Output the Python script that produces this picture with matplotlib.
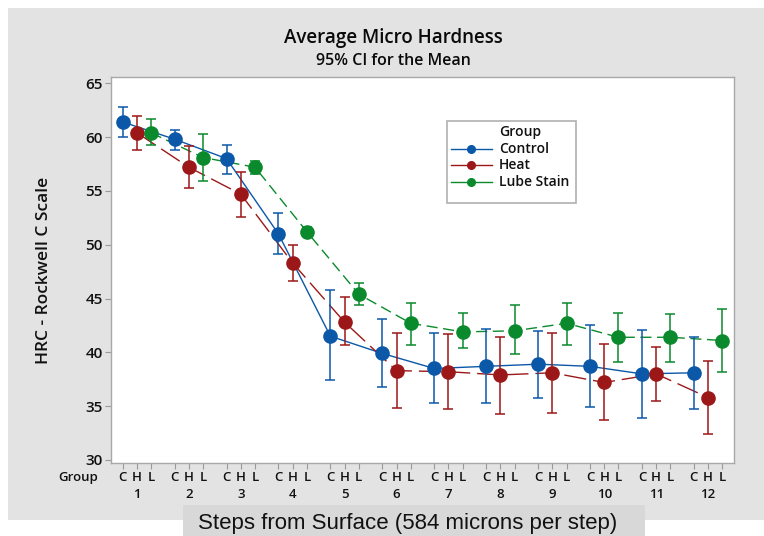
import numpy as np
import matplotlib.pyplot as plt
from matplotlib.patches import Rectangle
from matplotlib.lines import Line2D

plt.rcParams['font.family'] = ['Open Sans', 'DejaVu Sans']

# Mean hardness (HRC) and 95% CI bounds per step for each group
steps = list(range(1, 13))
groups = ['Control', 'Heat', 'Lube Stain']
group_codes = ['C', 'H', 'L']

control_mean = [61.4, 59.8, 58.0, 51.0, 41.5, 39.9, 38.5, 38.7, 38.9, 38.7, 38.0, 38.1]
control_lo = [60.0, 58.8, 56.6, 49.1, 37.4, 36.8, 35.3, 35.3, 35.8, 34.9, 33.9, 34.7]
control_hi = [62.8, 60.7, 59.3, 52.9, 45.8, 43.1, 41.8, 42.2, 42.0, 42.5, 42.1, 41.4]

heat_mean = [60.4, 57.2, 54.7, 48.3, 42.8, 38.3, 38.2, 37.9, 38.1, 37.2, 38.0, 35.8]
heat_lo = [58.8, 55.3, 52.6, 46.6, 40.7, 34.8, 34.7, 34.3, 34.4, 33.7, 35.5, 32.4]
heat_hi = [62.0, 59.2, 56.8, 50.0, 45.1, 41.8, 41.7, 41.4, 41.8, 40.8, 40.5, 39.2]

lube_mean = [60.4, 58.1, 57.2, 51.2, 45.4, 42.7, 41.9, 42.0, 42.7, 41.4, 41.4, 41.1]
lube_lo = [59.3, 55.9, 56.6, 50.8, 44.4, 40.7, 40.4, 39.8, 40.7, 39.1, 39.1, 38.2]
lube_hi = [61.7, 60.3, 57.8, 51.6, 46.4, 44.6, 43.7, 44.4, 44.6, 43.7, 43.6, 44.0]

series = [
    (control_mean, control_lo, control_hi, '#0b57a8', '-'),
    (heat_mean, heat_lo, heat_hi, '#9c1818', (0, (16, 5))),
    (lube_mean, lube_lo, lube_hi, '#0a8a2c', (0, (8, 4))),
]

W, H = 764, 536
fig = plt.figure(figsize=(W / 100, H / 100), dpi=100)
fig.patch.set_facecolor('white')


def fx(px):
    return px / W


def fy(py):
    return 1 - py / H


# gray backdrop panel and the x label box
fig.add_artist(Rectangle((fx(8), fy(520)), fx(764) - fx(8), fy(8) - fy(520),
                         transform=fig.transFigure, facecolor='#e3e3e3', edgecolor='none', zorder=0))
fig.add_artist(Rectangle((fx(183), fy(536)), fx(645) - fx(183), fy(505) - fy(536),
                         transform=fig.transFigure, facecolor='#d8d8d8', edgecolor='none', zorder=1))

ax = fig.add_axes([fx(111), fy(463), fx(734) - fx(111), fy(77) - fy(463)])
ax.set_facecolor('white')

step_gap = 3.65
base = np.array([(s - 1) * step_gap for s in steps])

for k, (mean, lo, hi, col, ls) in enumerate(series):
    x = base + k
    mean = np.array(mean)
    err = [mean - np.array(lo), np.array(hi) - mean]
    ax.plot(x, mean, color=col, lw=1.0, ls=ls, zorder=2)
    ax.errorbar(x, mean, yerr=err, fmt='none', ecolor=col, elinewidth=1.1,
                capsize=3.5, capthick=1.1, zorder=3)
    ax.plot(x, mean, 'o', color=col, ms=9.5, mec=col, zorder=4)

ax.set_xlim(-0.82, base[-1] + 2 + 0.82)
ax.set_ylim(29.72, 65.58)
ax.set_yticks([30, 35, 40, 45, 50, 55, 60, 65])

# C/H/L ticks under every point, step numbers beneath
xt = np.concatenate([base + k for k in range(3)])
xl = [c for c in group_codes for _ in steps]
ax.set_xticks(xt, labels=xl)
ax.xaxis.remove_overlapping_locs = False
ax.set_xticks(base + 1, labels=[str(s) for s in steps], minor=True)
ax.tick_params(axis='x', which='major', length=4, width=0.8, color='#9a9a9a', pad=2,
               labelsize=9.5, labelcolor='#111111')
ax.tick_params(axis='x', which='minor', length=0, pad=18, labelsize=9.5, labelcolor='#111111')
ax.tick_params(axis='y', length=4, width=0.8, color='#9a9a9a', pad=2,
               labelsize=11, labelcolor='#111111')
for lab in ax.get_xticklabels() + ax.get_xticklabels(minor=True) + ax.get_yticklabels():
    lab.set_fontweight('semibold')

for sp in ax.spines.values():
    sp.set_color('#a8a8a8')
    sp.set_linewidth(1.0)

fig.text(fx(98), fy(477), 'Group', ha='right', va='center', fontsize=9.5,
         fontweight='semibold', color='#111111')
fig.text(fx(44), fy(270), 'HRC - Rockwell C Scale', rotation=90, ha='center', va='center',
         fontsize=12.5, fontweight='semibold', color='#111111')
fig.text(fx(393), fy(38), 'Average Micro Hardness', ha='center', va='center',
         fontsize=13.5, fontweight='semibold', color='#0a0a0a')
fig.text(fx(393), fy(61), '95% CI for the Mean', ha='center', va='center',
         fontsize=11.5, fontweight='semibold', color='#0a0a0a')
fig.text(fx(408), fy(523), 'Steps from Surface (584 microns per step)', ha='center', va='center',
         fontsize=16, family='Liberation Sans', color='#111111')

# legend box
fig.add_artist(Rectangle((fx(447), fy(203)), fx(576) - fx(447), fy(121) - fy(203),
                         transform=fig.transFigure, facecolor='white', edgecolor='#b0b0b0',
                         lw=1.2, zorder=5))
fig.text(fx(499), fy(132), 'Group', ha='left', va='center', fontsize=10,
         fontweight='semibold', color='#111111', zorder=6)
for (mean, lo, hi, col, ls), name, py in zip(series, groups, [149, 165, 182]):
    fig.add_artist(Line2D([fx(451), fx(492)], [fy(py), fy(py)], transform=fig.transFigure,
                          color=col, lw=1.0, zorder=6))
    fig.add_artist(Line2D([fx(471)], [fy(py)], transform=fig.transFigure, marker='o',
                          ms=5.5, color=col, zorder=7))
    fig.text(fx(499), fy(py), name, ha='left', va='center', fontsize=10,
             fontweight='semibold', color='#111111', zorder=6)

fig.savefig('out.png', dpi=100)
